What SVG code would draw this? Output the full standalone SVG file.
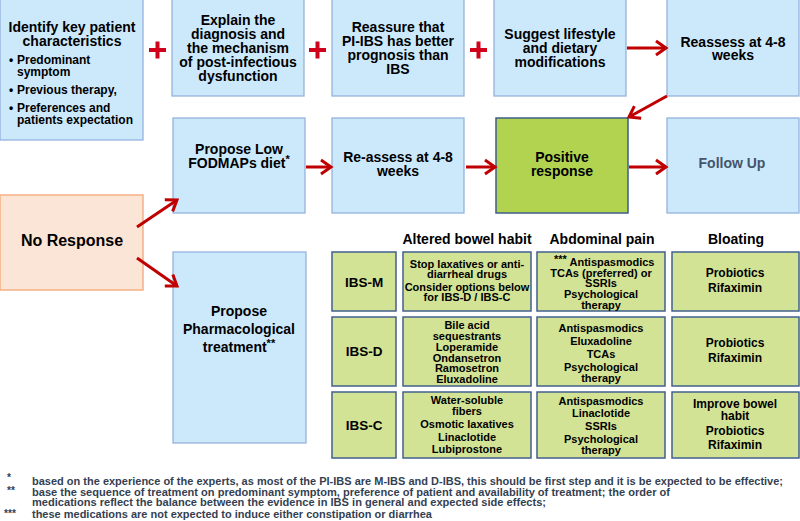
<svg xmlns="http://www.w3.org/2000/svg" width="800" height="521" viewBox="0 0 800 521">
<style>
text{font-family:"Liberation Sans",Arial,sans-serif;font-weight:bold;fill:#000}
.t14{font-size:14px;text-anchor:middle}
.t12{font-size:12px}
.t11{font-size:11px;text-anchor:middle}
.c12{font-size:12px;text-anchor:middle}
.lab{font-size:13.5px;text-anchor:middle}
.blue{fill:#cce9fc;stroke:#95b3dd;stroke-width:1.3}
.green{fill:#d3e395;stroke:#41608f;stroke-width:1.5}
.pos{fill:#b1d350;stroke:#3e5d8a;stroke-width:1.5}
.peach{fill:#fbe5d6;stroke:#f4b183;stroke-width:1.5}
.arr{stroke:#c00000;stroke-width:3;fill:none;marker-end:url(#ah)}
.plus{stroke:#d0021b;stroke-width:4}
.fn{font-size:10.2px;fill:#343f52}
</style>
<defs>
<marker id="ah" markerUnits="userSpaceOnUse" markerWidth="16" markerHeight="18" refX="13" refY="9" orient="auto">
<path d="M3,2 L13,9 L3,16" fill="none" stroke="#c00000" stroke-width="3"/>
</marker>
</defs>
<rect width="800" height="521" fill="#ffffff"/>

<g id="identify">
<rect class="blue" x="0" y="-1" width="143" height="141"/>
<text class="t14" x="72" y="31.5">Identify key patient</text>
<text class="t14" x="72" y="45.5">characteristics</text>
<text class="t12" x="9" y="63.5">•</text><text class="t12" x="17" y="63.5">Predominant</text>
<text class="t12" x="17" y="76">symptom</text>
<text class="t12" x="9" y="93.5">•</text><text class="t12" x="17" y="93.5">Previous therapy,</text>
<text class="t12" x="9" y="111.5">•</text><text class="t12" x="17" y="111.5">Preferences and</text>
<text class="t12" x="17" y="123.5">patients expectation</text>
</g>

<g id="explain">
<rect class="blue" x="172" y="-1" width="132" height="97"/>
<text class="t14" x="238" y="25">Explain the</text>
<text class="t14" x="238" y="39">diagnosis and</text>
<text class="t14" x="238" y="53">the mechanism</text>
<text class="t14" x="238" y="67">of post-infectious</text>
<text class="t14" x="238" y="81">dysfunction</text>
</g>

<g id="reassure">
<rect class="blue" x="332" y="-1" width="132" height="97"/>
<text class="t14" x="398" y="31.5">Reassure that</text>
<text class="t14" x="398" y="46">PI-IBS has better</text>
<text class="t14" x="398" y="60">prognosis than</text>
<text class="t14" x="398" y="74">IBS</text>
</g>

<g id="lifestyle">
<rect class="blue" x="494" y="-1" width="132" height="97"/>
<text class="t14" x="560" y="39">Suggest lifestyle</text>
<text class="t14" x="560" y="53">and dietary</text>
<text class="t14" x="560" y="66.5">modifications</text>
</g>

<g id="reassess1">
<rect class="blue" x="667" y="-1" width="132" height="97"/>
<text class="t14" x="733" y="46.5">Reassess at 4-8</text>
<text class="t14" x="733" y="60">weeks</text>
</g>

<g id="plus">
<path class="plus" d="M149,50 H166 M157.5,41.5 V58.5"/>
<path class="plus" d="M309,50 H326 M317.5,41.5 V58.5"/>
<path class="plus" d="M470,50 H487 M478.5,41.5 V58.5"/>
</g>

<g id="fodmap">
<rect class="blue" x="173" y="118" width="132" height="95"/>
<text class="t14" x="239" y="154">Propose Low</text>
<text class="t14" x="239" y="168">FODMAPs diet<tspan font-size="11" dy="-5">*</tspan></text>
</g>

<g id="reassess2">
<rect class="blue" x="332" y="118" width="132" height="95"/>
<text class="t14" x="398" y="162">Re-assess at 4-8</text>
<text class="t14" x="398" y="176">weeks</text>
</g>

<g id="positive">
<rect class="pos" x="496" y="118" width="132" height="95"/>
<text class="t14" x="562" y="162">Positive</text>
<text class="t14" x="562" y="176">response</text>
</g>

<g id="followup">
<rect class="blue" x="667" y="118" width="132" height="95"/>
<text class="t14" x="732" y="168" style="fill:#44546a">Follow Up</text>
</g>

<g id="noresponse">
<rect class="peach" x="0" y="195" width="143" height="95"/>
<text x="72" y="246" style="font-size:16px;text-anchor:middle">No Response</text>
</g>

<g id="pharm">
<rect class="blue" x="173" y="252" width="133" height="191"/>
<text class="t14" x="239" y="316">Propose</text>
<text class="t14" x="239" y="334">Pharmacological</text>
<text class="t14" x="239" y="352">treatment<tspan font-size="11" dy="-5">**</tspan></text>
</g>

<g id="headers">
<text class="t14" x="467" y="244">Altered bowel habit</text>
<text class="t14" x="602" y="244">Abdominal pain</text>
<text class="t14" x="736" y="244">Bloating</text>
</g>

<g id="ibsm">
<rect class="green" x="332" y="252" width="64" height="59"/>
<text class="lab" x="364" y="287">IBS-M</text>
<rect class="green" x="403" y="252" width="128" height="59"/>
<text class="t11" x="467" y="268">Stop laxatives or anti-</text>
<text class="t11" x="467" y="278">diarrheal drugs</text>
<text class="t11" x="467" y="291">Consider options below</text>
<text class="t11" x="467" y="301">for IBS-D / IBS-C</text>
<rect class="green" x="537" y="252" width="128" height="59"/>
<text x="554" y="263" style="font-size:11px">***</text>
<text class="t11" x="612" y="266">Antispasmodics</text>
<text class="t11" x="601" y="277">TCAs (preferred) or</text>
<text class="t11" x="601" y="287">SSRIs</text>
<text class="t11" x="601" y="298">Psychological</text>
<text class="t11" x="601" y="309">therapy</text>
<rect class="green" x="672" y="252" width="127" height="59"/>
<text class="c12" x="735" y="277">Probiotics</text>
<text class="c12" x="735" y="292">Rifaximin</text>
</g>

<g id="ibsd">
<rect class="green" x="332" y="317" width="64" height="69"/>
<text class="lab" x="364" y="356">IBS-D</text>
<rect class="green" x="403" y="317" width="128" height="69"/>
<text class="t11" x="467" y="329">Bile acid</text>
<text class="t11" x="467" y="340">sequestrants</text>
<text class="t11" x="467" y="351">Loperamide</text>
<text class="t11" x="467" y="362">Ondansetron</text>
<text class="t11" x="467" y="372">Ramosetron</text>
<text class="t11" x="467" y="383">Eluxadoline</text>
<rect class="green" x="537" y="317" width="128" height="69"/>
<text class="t11" x="601" y="332">Antispasmodics</text>
<text class="t11" x="601" y="345">Eluxadoline</text>
<text class="t11" x="601" y="358">TCAs</text>
<text class="t11" x="601" y="371">Psychological</text>
<text class="t11" x="601" y="382">therapy</text>
<rect class="green" x="672" y="317" width="127" height="69"/>
<text class="c12" x="735" y="347">Probiotics</text>
<text class="c12" x="735" y="362">Rifaximin</text>
</g>

<g id="ibsc">
<rect class="green" x="332" y="392" width="64" height="66"/>
<text class="lab" x="364" y="430">IBS-C</text>
<rect class="green" x="403" y="392" width="128" height="66"/>
<text class="t11" x="467" y="404">Water-soluble</text>
<text class="t11" x="467" y="415">fibers</text>
<text class="t11" x="467" y="428">Osmotic laxatives</text>
<text class="t11" x="467" y="441">Linaclotide</text>
<text class="t11" x="467" y="453">Lubiprostone</text>
<rect class="green" x="537" y="392" width="128" height="66"/>
<text class="t11" x="601" y="405">Antispasmodics</text>
<text class="t11" x="601" y="417">Linaclotide</text>
<text class="t11" x="601" y="430">SSRIs</text>
<text class="t11" x="601" y="443">Psychological</text>
<text class="t11" x="601" y="454">therapy</text>
<rect class="green" x="672" y="392" width="127" height="66"/>
<text class="c12" x="735" y="407.5">Improve bowel</text>
<text class="c12" x="735" y="419.5">habit</text>
<text class="c12" x="735" y="435">Probiotics</text>
<text class="c12" x="735" y="449">Rifaximin</text>
</g>

<g id="connectors">
<line class="arr" x1="627" y1="48" x2="666" y2="48"/>
<line class="arr" x1="667" y1="96" x2="629" y2="117"/>
<line class="arr" x1="306" y1="167" x2="331" y2="167"/>
<line class="arr" x1="466" y1="167" x2="495" y2="167"/>
<line class="arr" x1="629" y1="167" x2="666" y2="167"/>
<line class="arr" x1="137" y1="227" x2="177" y2="200"/>
<line class="arr" x1="137" y1="258" x2="177" y2="286"/>
</g>

<g id="footnotes">
<text class="fn" x="7" y="481">*</text>
<text class="fn" x="32" y="485" textLength="751" lengthAdjust="spacingAndGlyphs">based on the experience of the experts, as most of the PI-IBS are M-IBS and D-IBS, this should be first step and it is be expected to be effective;</text>
<text class="fn" x="7" y="494">**</text>
<text class="fn" x="32" y="496" textLength="638" lengthAdjust="spacingAndGlyphs">base the sequence of treatment on  predominant symptom, preference of patient and availability of treatment; the order of</text>
<text class="fn" x="32" y="506" textLength="514" lengthAdjust="spacingAndGlyphs">medications reflect the balance between the evidence in IBS in general and  expected side effects;</text>
<text class="fn" x="4" y="517">***</text>
<text class="fn" x="32" y="518" textLength="400" lengthAdjust="spacingAndGlyphs">these medications are not expected to induce either constipation or diarrhea</text>
</g>
</svg>
